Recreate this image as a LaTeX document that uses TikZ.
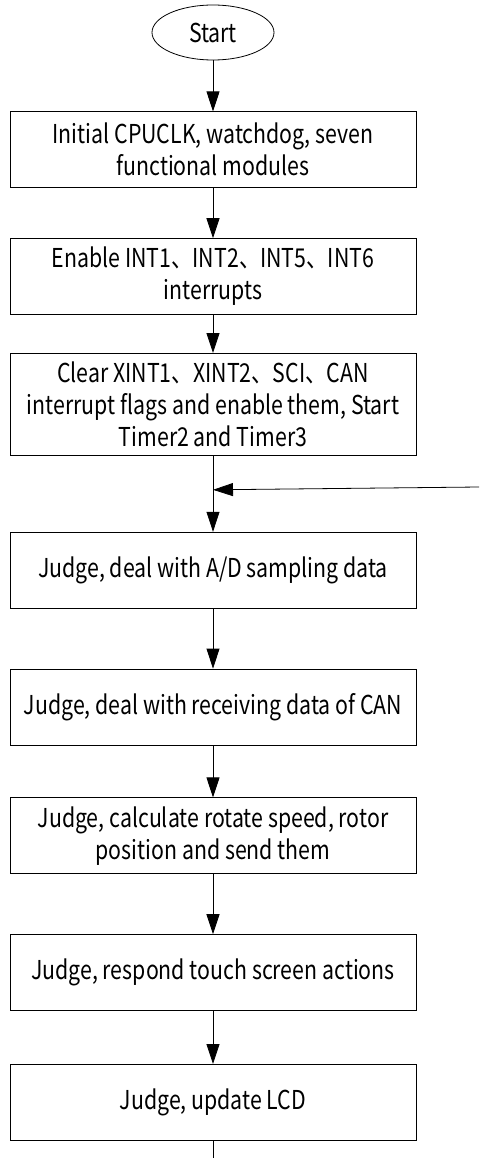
\documentclass[tikz,border=0pt]{standalone}
\usepackage{fontspec}
\setmainfont{Noto Sans CJK SC}[FakeStretch=0.82]
\usetikzlibrary{positioning,shapes.geometric,arrows.meta}

\begin{document}
\begin{tikzpicture}[x=1pt, y=1pt, line width=0.8pt, >={Triangle[length=20pt,width=13pt]},
        box/.style = {draw, rectangle, minimum width=406pt, minimum height=76pt, align=center, inner sep=2pt, font=\fontsize{26}{32}\selectfont},
        term/.style = {draw, ellipse, minimum width=122pt, minimum height=55pt, inner sep=0pt, font=\fontsize{26}{32}\selectfont}]
        \useasboundingbox (0,0) rectangle (479,-1158);
        \node[term] (start) at (213,-32.5) {Start};
        \node[box] (init) [below=51pt of start] {Initial CPUCLK, watchdog, seven\\functional modules};
        \node[box] (enable) [below=50pt of init] {Enable INT1、INT2、INT5、INT6\\interrupts};
        \node[box, minimum height=102pt] (clear) [below=38pt of enable] {Clear XINT1、XINT2、SCI、CAN\\interrupt flags and enable them, Start\\Timer2 and Timer3};
        \node[box] (adsample) [below=76pt of clear] {Judge, deal with A/D sampling data};
        \node[box] (canrx) [below=60pt of adsample] {Judge, deal with receiving data of CAN};
        \node[box] (speed) [below=52pt of canrx] {Judge, calculate rotate speed, rotor\\position and send them};
        \node[box] (touch) [below=60pt of speed] {Judge, respond touch screen actions};
        \node[box] (lcd) [below=53pt of touch] {Judge, update LCD};
        \coordinate[below=34pt of clear] (join);
        \coordinate (back) at (479,-487);
        \coordinate (tail) at (213,-1158);
        \draw[->] (start) -- (init);
        \draw[->] (init) -- (enable);
        \draw[->] (enable) -- (clear);
        \draw[->] (clear) -- (adsample);
        \draw[->] (back) -- (join);
        \draw[->] (adsample) -- (canrx);
        \draw[->] (canrx) -- (speed);
        \draw[->] (speed) -- (touch);
        \draw[->] (touch) -- (lcd);
        \draw (lcd) -- (tail);
    \end{tikzpicture}
\end{document}
